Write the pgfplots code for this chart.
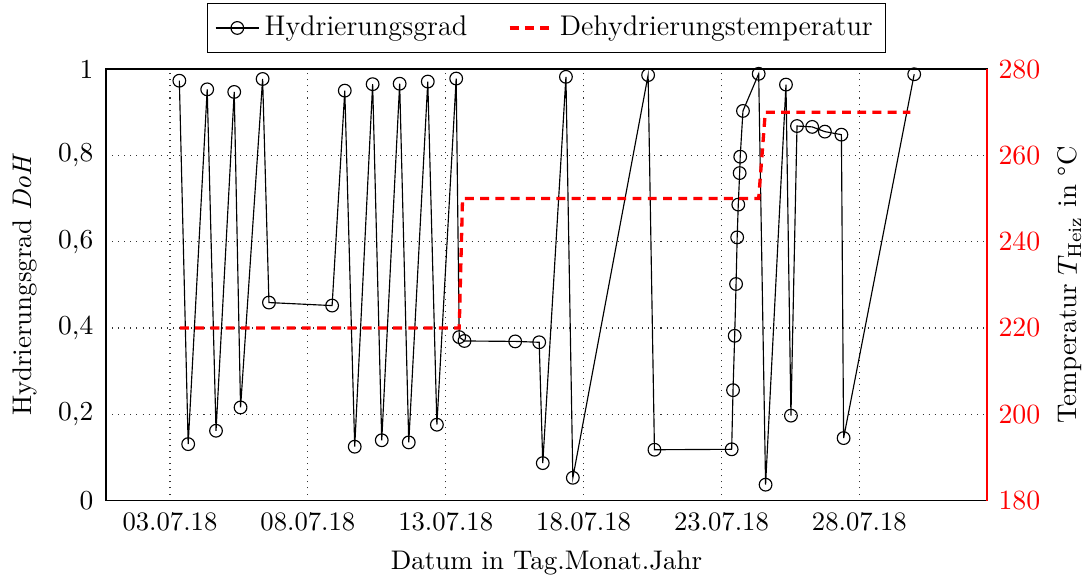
\documentclass[border=0pt]{standalone}
\usepackage{fontspec}
\usepackage{pgfplots}
\usetikzlibrary{calc}
\pgfplotsset{compat=1.18}
\begin{document}
\begin{tikzpicture}
\useasboundingbox (-41.75pt,-30.7pt) rectangle (386pt,197.2pt);
\begin{axis}[
  scale only axis, width=347pt, height=170pt,
  xmin=0.68, xmax=32.63, ymin=0, ymax=1,
  xtick={3,8,13,18,23,28},
  xticklabels={03.07.18,08.07.18,13.07.18,18.07.18,23.07.18,28.07.18},
  ytick={0,0.2,0.4,0.6,0.8,1},
  yticklabels={0,{0,2},{0,4},{0,6},{0,8},1},
  grid=major, major grid style={dotted, black!80, line width=0.5pt},
  major tick length=0pt,
  axis line style={black, line width=0.5pt},
  xticklabel style={font=\fontsize{10.5}{12}\selectfont, yshift=-1pt},
  yticklabel style={font=\fontsize{10.8}{12}\selectfont, xshift=-1.5pt},
  every axis x label/.style={at={($(axis description cs:0.5,0)+(0,-24.4pt)$)}, anchor=center, font=\fontsize{10.6}{12}\selectfont},
  every axis y label/.style={at={($(axis description cs:0,0.5)+(-31.9pt,0)$)}, anchor=center, rotate=90, font=\fontsize{10.6}{12}\selectfont},
  xlabel={Datum in Tag.Monat.Jahr},
  ylabel={Hydrierungsgrad \textit{DoH}},
  legend style={at={(0.5,1)}, yshift=6.3pt, anchor=south, legend columns=2, draw=black, line width=0.5pt,
    font=\fontsize{11.2}{13}\selectfont, inner ysep=3pt,
    /tikz/every even column/.append style={column sep=14pt}},
  legend cell align=left,
]
\addplot[black, line width=0.45pt, mark=o, mark size=2.5pt] coordinates {
(3.34,0.973) (3.66,0.131) (4.35,0.953) (4.67,0.162) (5.33,0.947) (5.56,0.216)
(6.36,0.977) (6.59,0.459) (8.88,0.452) (9.34,0.950) (9.70,0.125) (10.35,0.965)
(10.68,0.140) (11.33,0.966) (11.66,0.135) (12.35,0.971) (12.68,0.176) (13.38,0.978)
(13.49,0.379) (13.68,0.370) (15.52,0.369) (16.39,0.367) (16.52,0.087) (17.36,0.982)
(17.61,0.053) (20.34,0.986) (20.57,0.118) (23.37,0.119) (23.42,0.256) (23.48,0.382)
(23.53,0.502) (23.57,0.610) (23.61,0.686) (23.66,0.759) (23.68,0.797) (23.78,0.903)
(24.35,0.989) (24.60,0.037) (25.34,0.964) (25.52,0.197) (25.74,0.868) (26.29,0.866)
(26.75,0.855) (27.35,0.848) (27.43,0.145) (29.99,0.988)
};
\addlegendentry{Hydrierungsgrad}
\addlegendimage{red, line width=1.3pt, dash pattern=on 3.5pt off 2.5pt}
\addlegendentry{Dehydrierungstemperatur}
\end{axis}
\begin{axis}[
  scale only axis, width=347pt, height=170pt,
  xmin=0.68, xmax=32.63, ymin=180, ymax=280,
  axis x line=none, axis y line*=right,
  y axis line style={red, line width=0.6pt},
  major tick length=0pt,
  ytick={180,200,220,240,260,280},
  yticklabel style={red, font=\fontsize{10.8}{12}\selectfont, xshift=1pt},
  every axis y label/.style={at={($(axis description cs:1,0.5)+(32.7pt,0)$)}, anchor=center, rotate=90, font=\fontsize{10.6}{12}\selectfont},
  ylabel={Temperatur $T_{\mathrm{Heiz}}$ in °C},
]
\addplot[red, line width=1.3pt, dash pattern=on 3.5pt off 2.5pt] coordinates {
(3.36,220) (13.49,220) (13.61,250) (24.35,250) (24.59,270) (29.85,270)
};
\end{axis}
\end{tikzpicture}
\end{document}
